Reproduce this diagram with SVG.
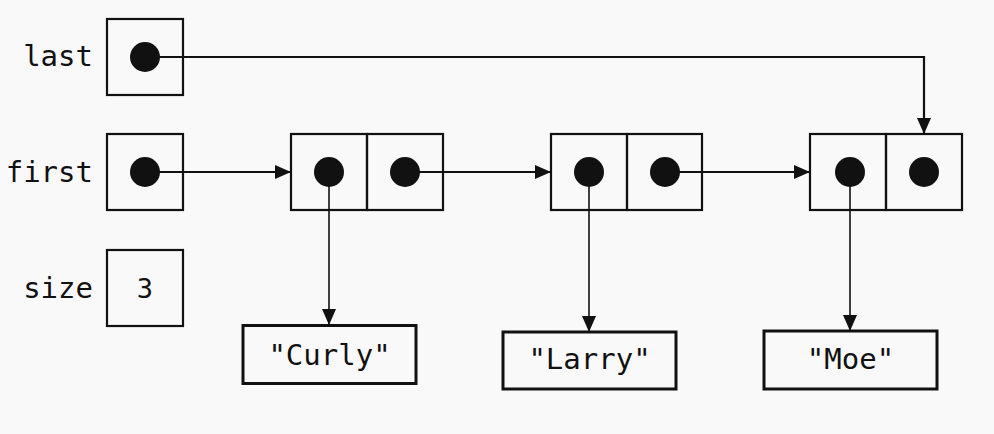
<svg xmlns="http://www.w3.org/2000/svg" width="994" height="434" viewBox="0 0 994 434">
<style>
.bg{fill:#f9f9f9}
.box{fill:none;stroke:#111;stroke-width:2.2}
.str{fill:none;stroke:#111;stroke-width:3}
.dot{fill:#111}
.t{font-family:"DejaVu Sans Mono","Liberation Mono",monospace;font-size:29px;fill:#111}
.lbl{text-anchor:end}
.c{text-anchor:middle}
.h{fill:none;stroke:#111;stroke-width:2.2}
.v{fill:none;stroke:#111;stroke-width:1.6}
</style>
<defs>
<marker id="ah" viewBox="0 0 16 14" refX="16" refY="7" markerWidth="16" markerHeight="14" markerUnits="userSpaceOnUse" orient="auto">
<path d="M0,0 L16,7 L0,14 Z" fill="#111"/>
</marker>
</defs>
<rect class="bg" x="0" y="0" width="994" height="434"/>
<g id="connectors">
<path class="h" d="M145,57 H924 V134" marker-end="url(#ah)"/>
<path class="h" d="M145,172 H291" marker-end="url(#ah)"/>
<path class="h" d="M405,172 H551" marker-end="url(#ah)"/>
<path class="h" d="M665,172 H810" marker-end="url(#ah)"/>
<path class="v" d="M329,172 V325" marker-end="url(#ah)"/>
<path class="v" d="M589,172 V332" marker-end="url(#ah)"/>
<path class="v" d="M850,172 V331" marker-end="url(#ah)"/>
</g>
<g id="last">
<text class="t lbl" x="93" y="66">last</text>
<rect class="box" x="107" y="19" width="76" height="76"/>
<circle class="dot" cx="145" cy="57" r="15"/>
</g>
<g id="first">
<text class="t lbl" x="93" y="182">first</text>
<rect class="box" x="107" y="134" width="76" height="76"/>
<circle class="dot" cx="145" cy="172" r="15"/>
</g>
<g id="size">
<text class="t lbl" x="93" y="298">size</text>
<rect class="box" x="107" y="250" width="76" height="76"/>
<text class="t c" x="145" y="298" style="font-size:27px">3</text>
</g>
<g id="node1">
<rect class="box" x="291" y="134" width="76" height="76"/>
<rect class="box" x="367" y="134" width="76" height="76"/>
<circle class="dot" cx="329" cy="172" r="15"/>
<circle class="dot" cx="405" cy="172" r="15"/>
</g>
<g id="node2">
<rect class="box" x="551" y="134" width="76" height="76"/>
<rect class="box" x="627" y="134" width="75" height="76"/>
<circle class="dot" cx="589" cy="172" r="15"/>
<circle class="dot" cx="665" cy="172" r="15"/>
</g>
<g id="node3">
<rect class="box" x="810" y="134" width="76" height="76"/>
<rect class="box" x="886" y="134" width="76" height="76"/>
<circle class="dot" cx="850" cy="172" r="15"/>
<circle class="dot" cx="924" cy="172" r="15"/>
</g>
<g id="curly">
<rect class="str" x="243" y="325.5" width="173" height="58"/>
<text class="t c" x="329.5" y="365">"Curly"</text>
</g>
<g id="larry">
<rect class="str" x="503" y="332" width="173" height="57"/>
<text class="t c" x="589.5" y="369">"Larry"</text>
</g>
<g id="moe">
<rect class="str" x="764" y="331" width="173" height="58"/>
<text class="t c" x="850.5" y="369">"Moe"</text>
</g>
</svg>
